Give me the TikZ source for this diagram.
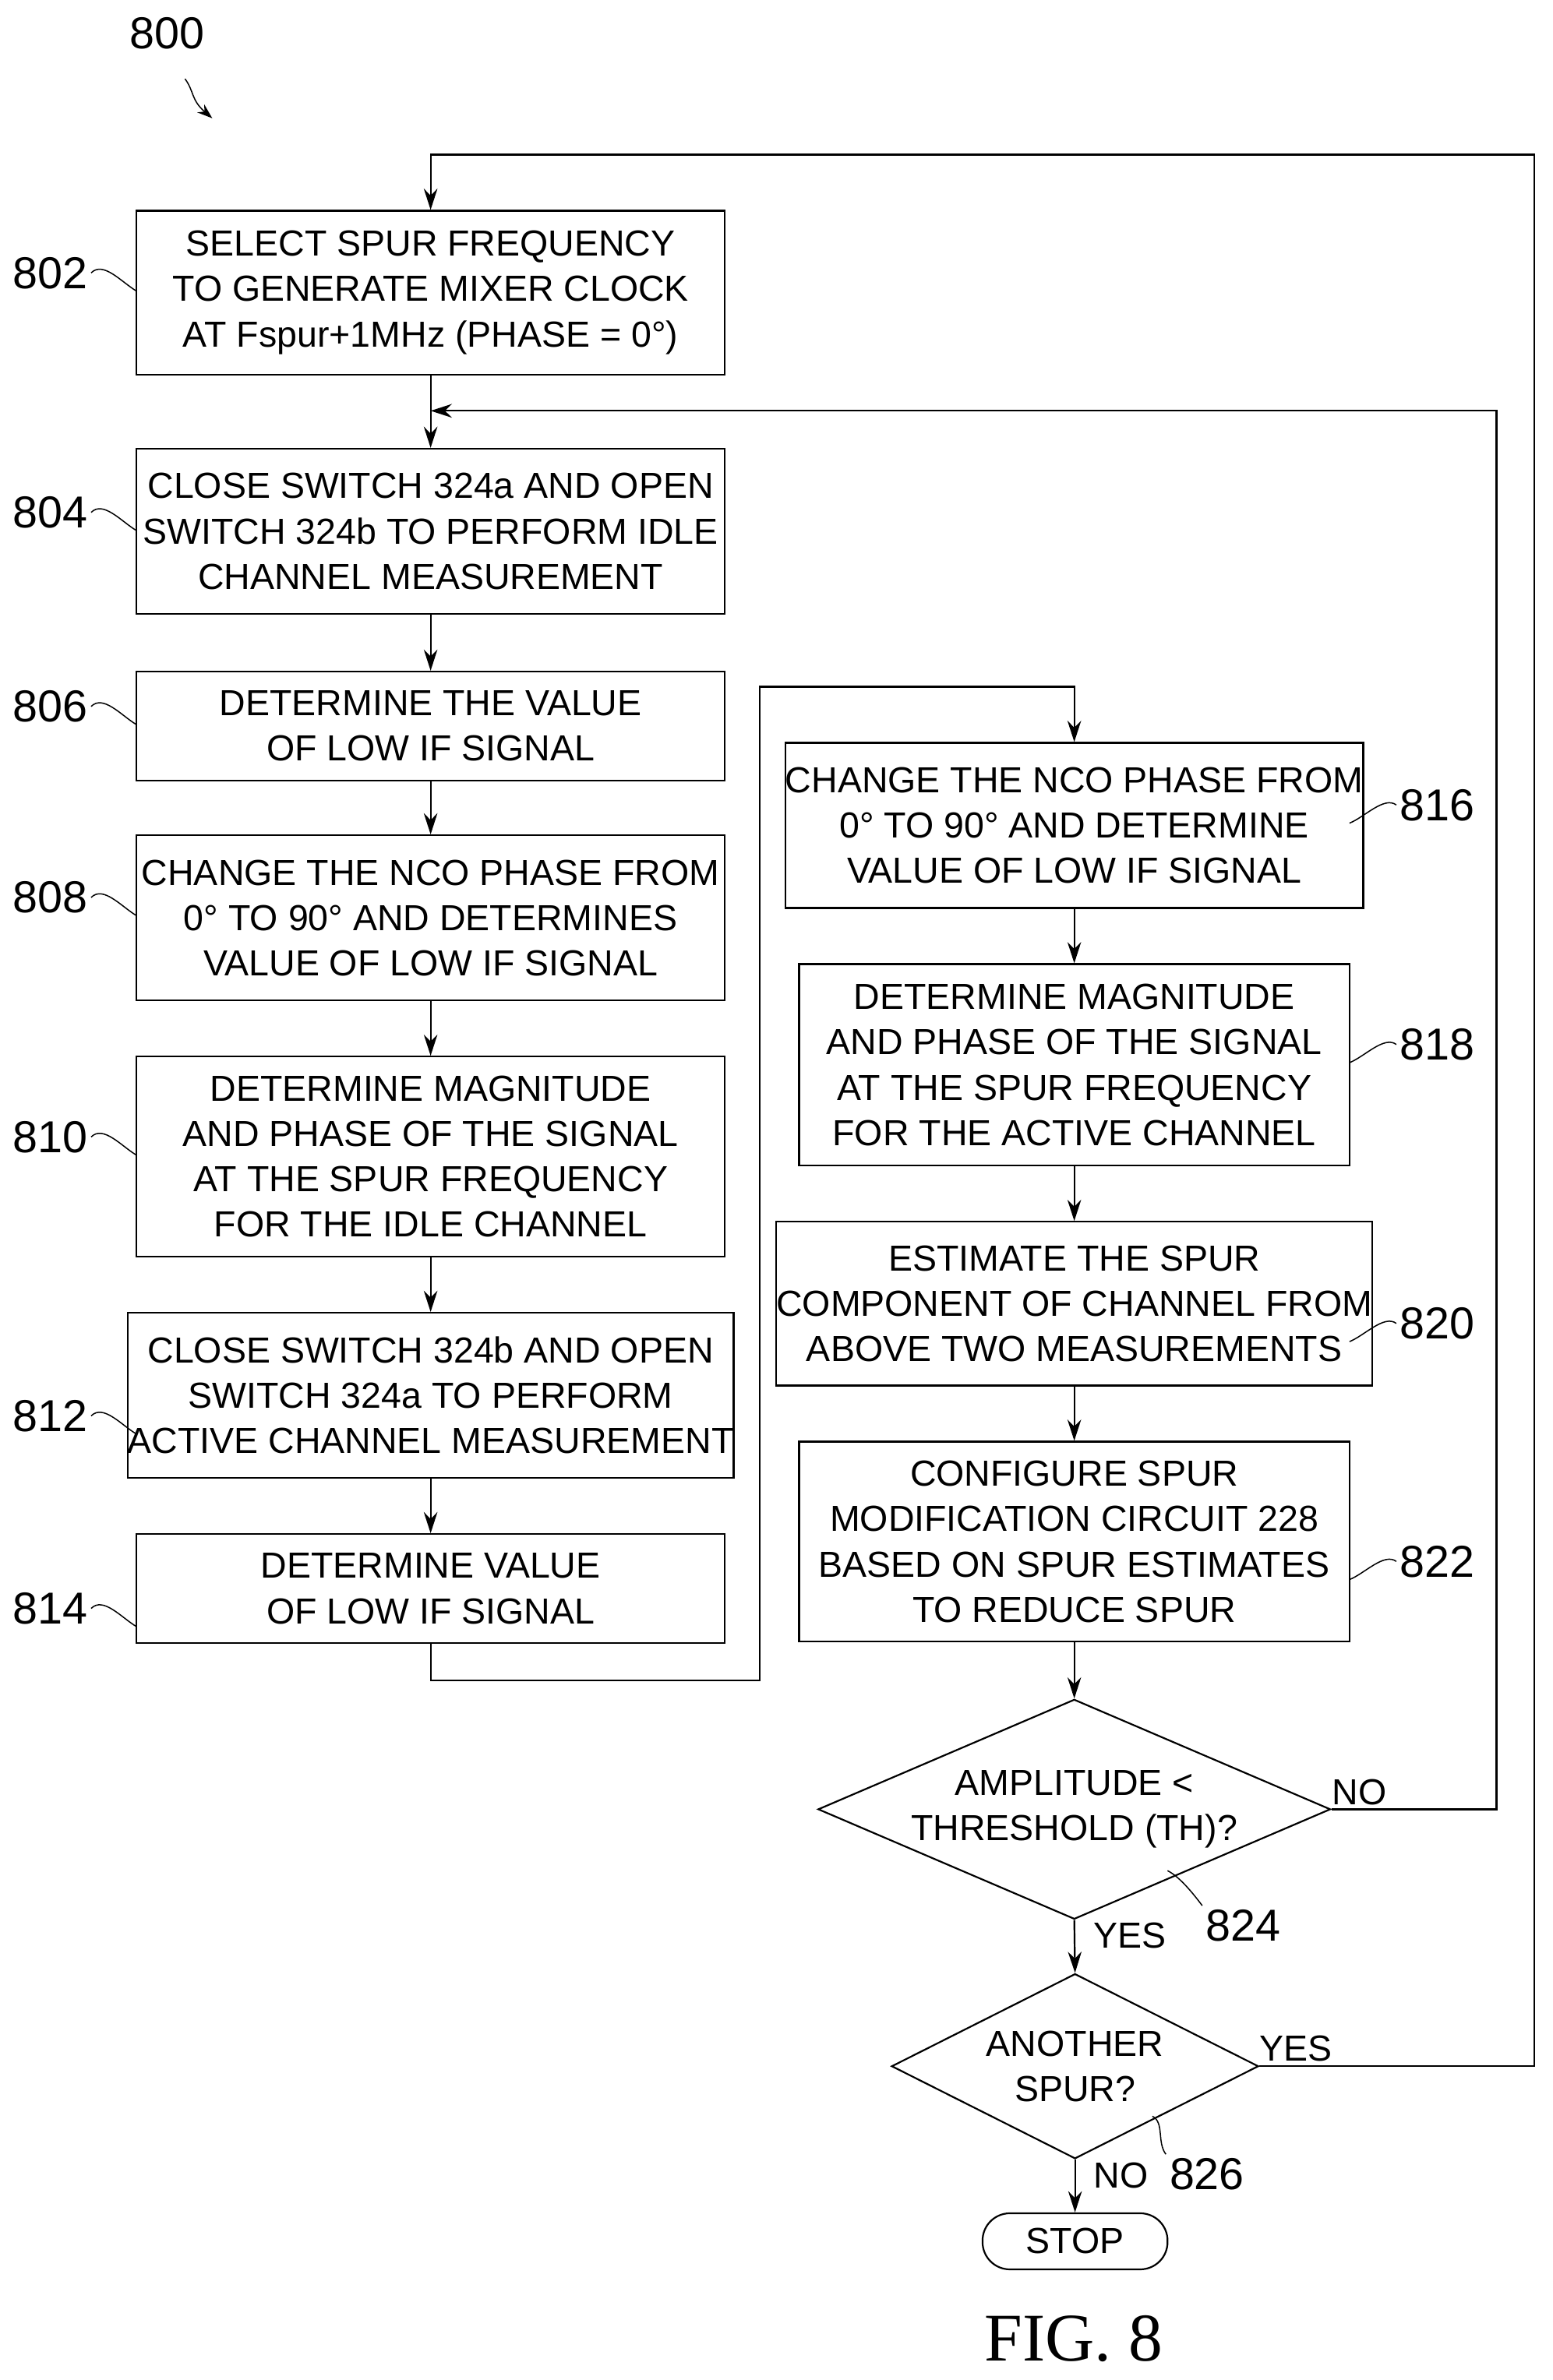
\documentclass[tikz,border=0pt]{standalone}
\usepackage{fontspec}
\setmainfont{Liberation Sans}
\newfontfamily\figfont{Liberation Serif}
\usetikzlibrary{shapes.geometric,arrows.meta}
\begin{document}
\begin{tikzpicture}[x=0.5mm,y=-0.5mm,
 box/.style={draw,line width=1.6pt,minimum width=194mm,align=center,font=\fontsize{34}{42.5}\selectfont,inner sep=0pt},
 rbox/.style={box,minimum width=181.5mm},
 dia/.style={draw,diamond,aspect=2.33,line width=1.6pt,align=center,font=\fontsize{34}{42.5}\selectfont,inner sep=0pt},
 ln/.style={line width=1.6pt},
 ar/.style={ln,-{Stealth[length=7mm,width=4.5mm]}},
 lab/.style={font=\fontsize{42}{44}\selectfont},
 tl/.style={line width=1.1pt},
 yn/.style={font=\fontsize{34}{40}\selectfont}]
\useasboundingbox (0,0) rectangle (1024,1570);
\node[box,minimum height=54mm] (b802) at (284,193) {SELECT SPUR FREQUENCY\\TO GENERATE MIXER CLOCK\\AT Fspur+1MHz (PHASE = 0°)};
\node[box,minimum height=54.5mm] (b804) at (284,350.5) {CLOSE SWITCH 324a AND OPEN\\SWITCH 324b TO PERFORM IDLE\\CHANNEL MEASUREMENT};
\node[box,minimum height=36mm] (b806) at (284,479) {DETERMINE THE VALUE\\OF LOW IF SIGNAL};
\node[box,minimum height=54.5mm] (b808) at (284,605.5) {CHANGE THE NCO PHASE FROM\\0° TO 90° AND DETERMINES\\VALUE OF LOW IF SIGNAL};
\node[box,minimum height=66mm] (b810) at (284,763) {DETERMINE MAGNITUDE\\AND PHASE OF THE SIGNAL\\AT THE SPUR FREQUENCY\\FOR THE IDLE CHANNEL};
\node[box,minimum height=54.5mm] (b812) at (284,920.5) {CLOSE SWITCH 324b AND OPEN\\SWITCH 324a TO PERFORM\\ACTIVE CHANNEL MEASUREMENT};
\node[box,minimum height=36mm] (b814) at (284,1048) {DETERMINE VALUE\\OF LOW IF SIGNAL};
\node[rbox,minimum height=54.5mm] (b816) at (708.5,544.5) {CHANGE THE NCO PHASE FROM\\0° TO 90° AND DETERMINE\\VALUE OF LOW IF SIGNAL};
\node[rbox,minimum height=66.5mm] (b818) at (708.5,702.5) {DETERMINE MAGNITUDE\\AND PHASE OF THE SIGNAL\\AT THE SPUR FREQUENCY\\FOR THE ACTIVE CHANNEL};
\node[rbox,minimum height=54mm] (b820) at (708.5,860) {ESTIMATE THE SPUR\\COMPONENT OF CHANNEL FROM\\ABOVE TWO MEASUREMENTS};
\node[rbox,minimum height=66mm] (b822) at (708.5,1017) {CONFIGURE SPUR\\MODIFICATION CIRCUIT 228\\BASED ON SPUR ESTIMATES\\TO REDUCE SPUR};
\node[dia,minimum width=169mm,minimum height=72.5mm] (d824) at (708.5,1193.5) {AMPLITUDE <\\THRESHOLD (TH)?};
\node[dia,minimum width=121mm,minimum height=61mm] (d826) at (709,1363) {ANOTHER\\SPUR?};
\node[draw,ln,rounded corners=9mm,minimum width=61mm,minimum height=18.5mm,inner sep=0pt,font=\fontsize{34}{40}\selectfont] (stop) at (709,1478.5) {STOP};
% arrows
\draw[ar] (b802) -- (b804);
\draw[ar] (b804) -- (b806);
\draw[ar] (b806) -- (b808);
\draw[ar] (b808) -- (b810);
\draw[ar] (b810) -- (b812);
\draw[ar] (b812) -- (b814);
\draw[ar] (b814.south) -- ++(0,24) -| (501,453) -| (b816.north);
\draw[ar] (b816) -- (b818);
\draw[ar] (b818) -- (b820);
\draw[ar] (b820) -- (b822);
\draw[ar] (b822) -- (d824.north);
\draw[ar] (d824.south) -- (d826.north);
\draw[ar] (d826.south) -- (stop.north);
\draw[ar] (d824.east) -- (987,1193.5) |- (284,271);
\draw[ar] (d826.east) -- (1012,1363) |- (284,102) -- (b802.north);
\node[yn,anchor=south west] at (876,1193) {NO};
\node[yn,anchor=north west] at (719,1266) {YES};
\node[yn,anchor=south west] at (828,1362) {YES};
\node[yn,anchor=north west] at (719,1424) {NO};
% labels
\foreach \n/\y in {802/180,804/338,806/466,808/592,810/750,812/934,814/1061}{
 \node[lab] (l\n) at (33,\y) {\n};
 \draw[tl] (l\n.east) .. controls +(8,-8) and +(-10,-6) .. (90,\y+12);
}
\foreach \n/\y/\yb in {816/531/544,818/689/702,820/873/860,822/1030/1017}{
 \node[lab] (l\n) at (948,\y) {\n};
 \draw[tl] (l\n.west) .. controls +(-8,-6) and +(10,-4) .. (890,\y+12);
}
\node[lab] (l824) at (820,1270) {824};
\draw[tl] (l824.north west) .. controls +(-6,-8) and +(8,4) .. (770,1234);
\node[lab] (l826) at (796,1434) {826};
\draw[tl] (l826.north west) .. controls +(-6,-8) and +(8,4) .. (760,1396);
\node[lab] (l800) at (110,22) {800};
\draw[tl,-{Stealth[length=5mm,width=3.5mm]}] (122,52) .. controls (128,60) and (126,66) .. (140,78);
\node[font=\figfont\fontsize{64}{70}\selectfont] (fig) at (708,1543) {FIG. 8};
\end{tikzpicture}
\end{document}
